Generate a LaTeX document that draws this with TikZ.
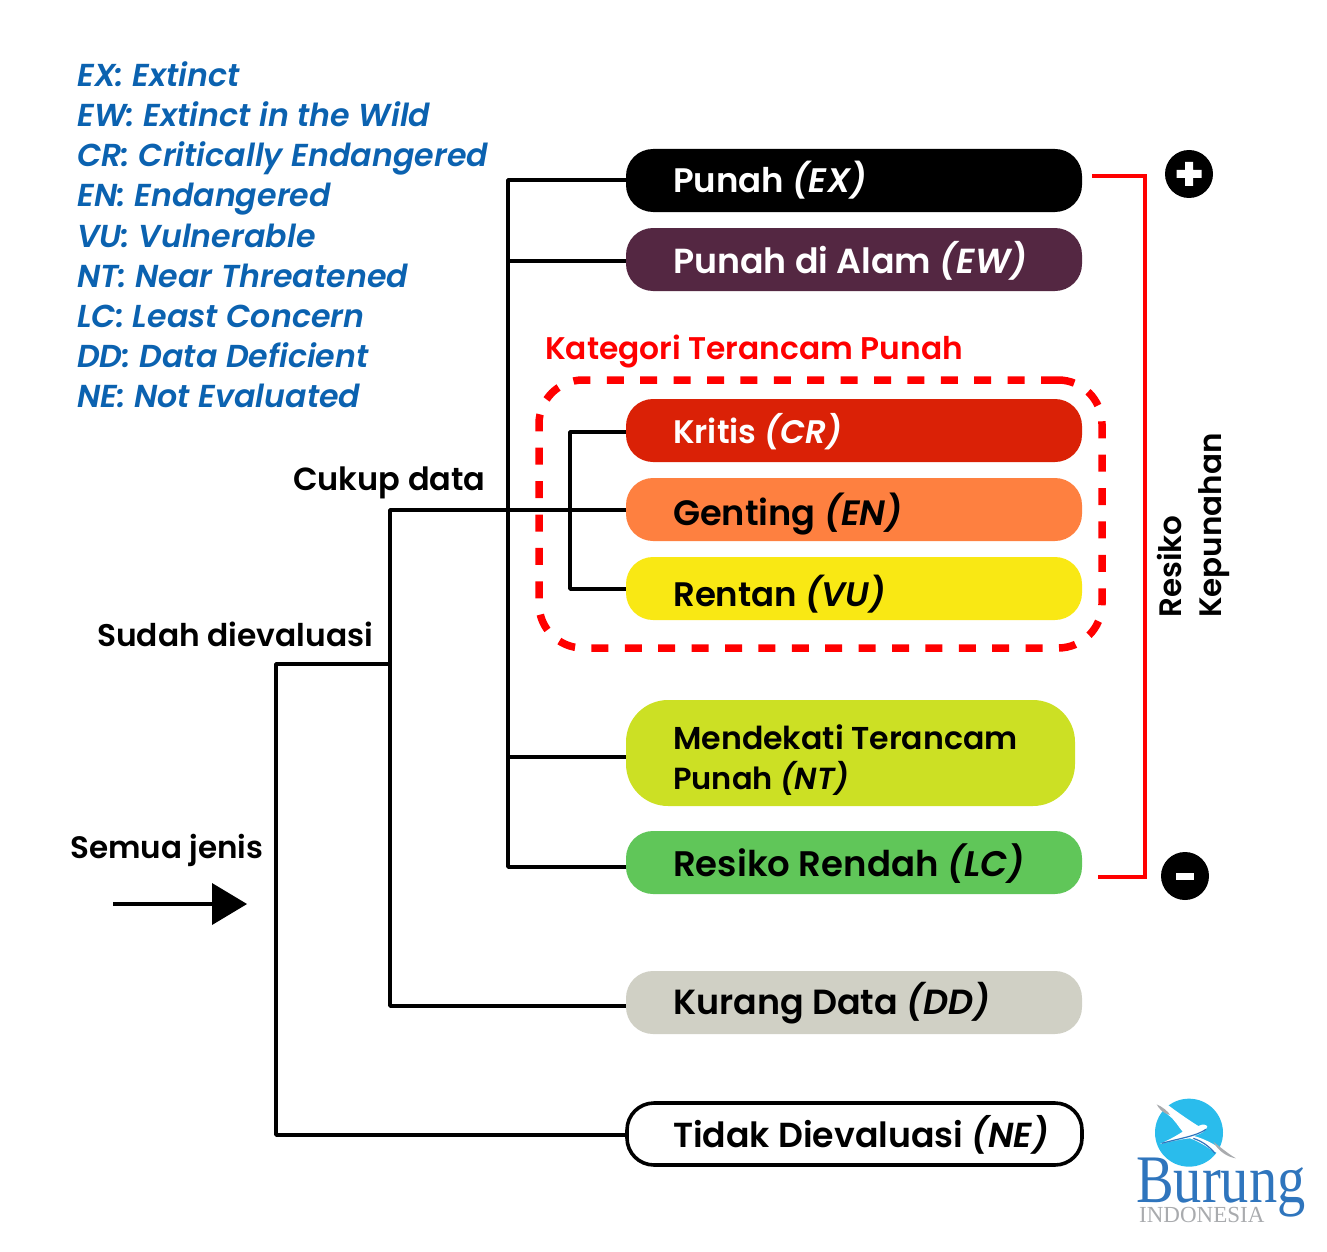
\documentclass[tikz,border=0pt]{standalone}
\usepackage{fontspec}
\setmainfont{Poppins}[UprightFont=* SemiBold,ItalicFont=* SemiBold Italic,BoldFont=* Bold]
\newfontfamily\logofont{Liberation Serif}
\definecolor{legblue}{HTML}{0B62B0}
\definecolor{ewc}{HTML}{542742}
\definecolor{crc}{HTML}{DA2106}
\definecolor{enc}{HTML}{FE8040}
\definecolor{vuc}{HTML}{F9E814}
\definecolor{ntc}{HTML}{CCE024}
\definecolor{lcc}{HTML}{60C659}
\definecolor{ddc}{HTML}{D0D0C5}
\definecolor{sky}{HTML}{2ABCEC}
\definecolor{logoblue}{HTML}{2F75BD}
\definecolor{logogray}{HTML}{A9ABAE}
\newcommand{\fsz}[1]{\fontsize{#1}{#1}\selectfont}
\tikzset{
  pill/.style={anchor=north west,inner sep=0pt,outer sep=0pt,minimum height=63pt,minimum width=456pt,rounded corners=27pt},
  pilltext/.style={anchor=base west,inner sep=0pt,font=\fsz{34}},
  conn/.style={line width=3.6pt,black,line join=round},
  rconn/.style={line width=3.8pt,red},
  leg/.style={anchor=base west,inner sep=0pt,text=legblue,font=\fsz{31.7}\itshape},
  lab/.style={anchor=base west,inner sep=0pt,font=\fsz{31}},
}
\begin{document}
\begin{tikzpicture}[x=1pt,y=-1pt]
\useasboundingbox (0,0) rectangle (1327,1252);
% legend
\node[leg] (l1) at (77,87) {EX: Extinct};
\node[leg] (l2) at (77,127) {EW: Extinct in the Wild};
\node[leg] (l3) at (77,167) {CR: Critically Endangered};
\node[leg] (l4) at (77,207) {EN: Endangered};
\node[leg] (l5) at (77,247) {VU: Vulnerable};
\node[leg] (l6) at (77,287) {NT: Near Threatened};
\node[leg] (l7) at (77,327) {LC: Least Concern};
\node[leg] (l8) at (77,367) {DD: Data Deficient};
\node[leg] (l9) at (77,407) {NE: Not Evaluated};
% pills
\node[pill,fill=black] (ex) at (626,149) {};
\node[pill,fill=ewc] (ew) at (626,228) {};
\node[pill,fill=crc] (cr) at (626,399) {};
\node[pill,fill=enc] (en) at (626,478) {};
\node[pill,fill=vuc] (vu) at (626,557) {};
\node[pill,fill=ntc,minimum height=106pt,minimum width=449pt,rounded corners=42pt] (nt) at (626,700) {};
\node[pill,fill=lcc] (lc) at (626,831) {};
\node[pill,fill=ddc] (dd) at (626,971) {};
\node[pill,fill=white,draw=black,line width=3.6pt,minimum height=62pt,minimum width=455pt,rounded corners=27pt] (ne) at (627,1103) {};
% pill labels
\node[pilltext,text=white] (tex) at (673,193) {Punah \textit{(EX)}};
\node[pilltext,text=white,font=\fsz{34.8}] (tew) at (673,273) {Punah di Alam \textit{(EW)}};
\node[pilltext,text=white,font=\fsz{32.6}] (tcr) at (673,443) {Kritis \textit{(CR)}};
\node[pilltext,font=\fsz{35.2}] (ten) at (673,525) {Genting \textit{(EN)}};
\node[pilltext] (tvu) at (673,606) {Rentan \textit{(VU)}};
\node[pilltext,font=\fsz{31.6}] (tnt1) at (673,749) {Mendekati Terancam};
\node[pilltext,font=\fsz{30.5}] (tnt2) at (673,789) {Punah \textit{(NT)}};
\node[pilltext,font=\fsz{35.5}] (tlc) at (673,876) {Resiko Rendah \textit{(LC)}};
\node[pilltext,font=\fsz{34.9}] (tdd) at (673,1014) {Kurang Data \textit{(DD)}};
\node[pilltext,font=\fsz{34.7}] (tne) at (673,1147) {Tidak Dievaluasi \textit{(NE)}};
% junctions
\coordinate (j3top) at (508,180);
\coordinate (j3ew) at (508,261);
\coordinate (j3nt) at (508,757);
\coordinate (j3lc) at (508,867);
\coordinate (j2top) at (390,510);
\coordinate (j2mid) at (390,664);
\coordinate (j2dd) at (390,1006);
\coordinate (j1top) at (276,664);
\coordinate (j1ne) at (276,1135);
\coordinate (j4cr) at (570,432);
\coordinate (j4vu) at (570,589);
% connectors
\draw[conn] (ex.west|-j3top) -- (j3top) -- (j3lc) -- (lc.west|-j3lc);
\draw[conn] (j3ew) -- (ew.west|-j3ew);
\draw[conn] (j3nt) -- (nt.west|-j3nt);
\draw[conn] (en.west|-j2top) -- (j2top) -- (j2dd) -- (dd.west|-j2dd);
\draw[conn] (j2mid) -- (j1top) -- (j1ne) -- (ne.west|-j1ne);
\draw[conn] (cr.west|-j4cr) -- (j4cr) -- (j4vu) -- (vu.west|-j4vu);
% threatened box
\node[anchor=base west,inner sep=0pt,text=red,font=\fsz{31.3}] (kat) at (545,359) {Kategori Terancam Punah};
\node[anchor=north west,inner sep=0pt,outer sep=0pt,minimum width=563pt,minimum height=268pt,draw=red,line width=7.5pt,dash pattern=on 17pt off 16.4pt,rounded corners=44pt] (threat) at (539,380) {};
% labels
\node[lab,font=\fsz{32}] (cukup) at (293,490) {Cukup data};
\node[lab,font=\fsz{31.3}] (sudah) at (97,646) {Sudah dievaluasi};
\node[lab] (semua) at (70,858) {Semua jenis};
% arrow
\coordinate (as) at (113,904);
\coordinate (ab) at (212,904);
\coordinate (at1) at (212,883);
\coordinate (at2) at (212,925);
\coordinate (atip) at (247,904);
\draw[conn] (as) -- (ab);
\fill (at1) -- (atip) -- (at2) -- cycle;
% risk bracket
\node[circle,fill=black,minimum size=48pt,inner sep=0pt] (plus) at (1189,174) {};
\node[circle,fill=black,minimum size=48pt,inner sep=0pt] (minus) at (1185,876) {};
\fill[white] (1176.5,170) rectangle (1201.5,178) (1185,162) rectangle (1193,186);
\fill[white] (1176,873) rectangle (1194,880);
\coordinate (r1) at (1092,176);
\coordinate (r2) at (1145,176);
\coordinate (r3) at (1145,877);
\coordinate (r4) at (1098,877);
\draw[rconn] (r1) -- (r2) -- (r3) -- (r4);
\node[rotate=90,anchor=base west,inner sep=0pt,font=\fsz{31}] (res) at (1181,618) {Resiko};
\node[rotate=90,anchor=base west,inner sep=0pt,font=\fsz{31}] (kep) at (1221,618) {Kepunahan};
% logo
\begin{scope}[shift={(1100,1070)},x=0.3333pt,y=-0.3333pt]
\fill[sky] (267,188) circle (34pt);
\fill[white] (157,68) .. controls (195,100) and (250,140) .. (295,168) .. controls (310,160) and (320,165) .. (322,170)
 .. controls (318,185) and (300,192) .. (282,198) .. controls (310,205) and (350,225) .. (372,245) .. controls (385,255) and (400,262) .. (408,265)
 .. controls (380,262) and (345,250) .. (320,230) .. controls (300,218) and (285,210) .. (270,205) .. controls (240,208) and (210,215) .. (180,222)
 .. controls (205,210) and (225,200) .. (248,185) .. controls (235,170) and (225,150) .. (205,135) .. controls (185,118) and (170,95) .. (157,68) -- cycle;
\fill[logogray] (170,103) .. controls (190,112) and (205,125) .. (210,135) .. controls (190,130) and (178,118) .. (170,103) -- cycle;
\fill[logogray] (340,215) .. controls (365,235) and (390,255) .. (408,265) .. controls (385,262) and (355,245) .. (340,215) -- cycle;
\draw[logoblue,line width=1.2pt] (185,220) .. controls (240,205) and (290,198) .. (318,178);
\draw[logoblue,line width=1.2pt] (280,205) .. controls (310,215) and (330,232) .. (345,250);
\end{scope}
\node[anchor=base west,inner sep=0pt,text=logoblue,font=\logofont\fsz{68},xscale=0.83] (burung) at (1136,1202) {\smash{Burung}};
\node[anchor=base west,inner sep=0pt,text=logogray,font=\logofont\fsz{23}] (indo) at (1139,1222) {INDONESIA};
\end{tikzpicture}
\end{document}
